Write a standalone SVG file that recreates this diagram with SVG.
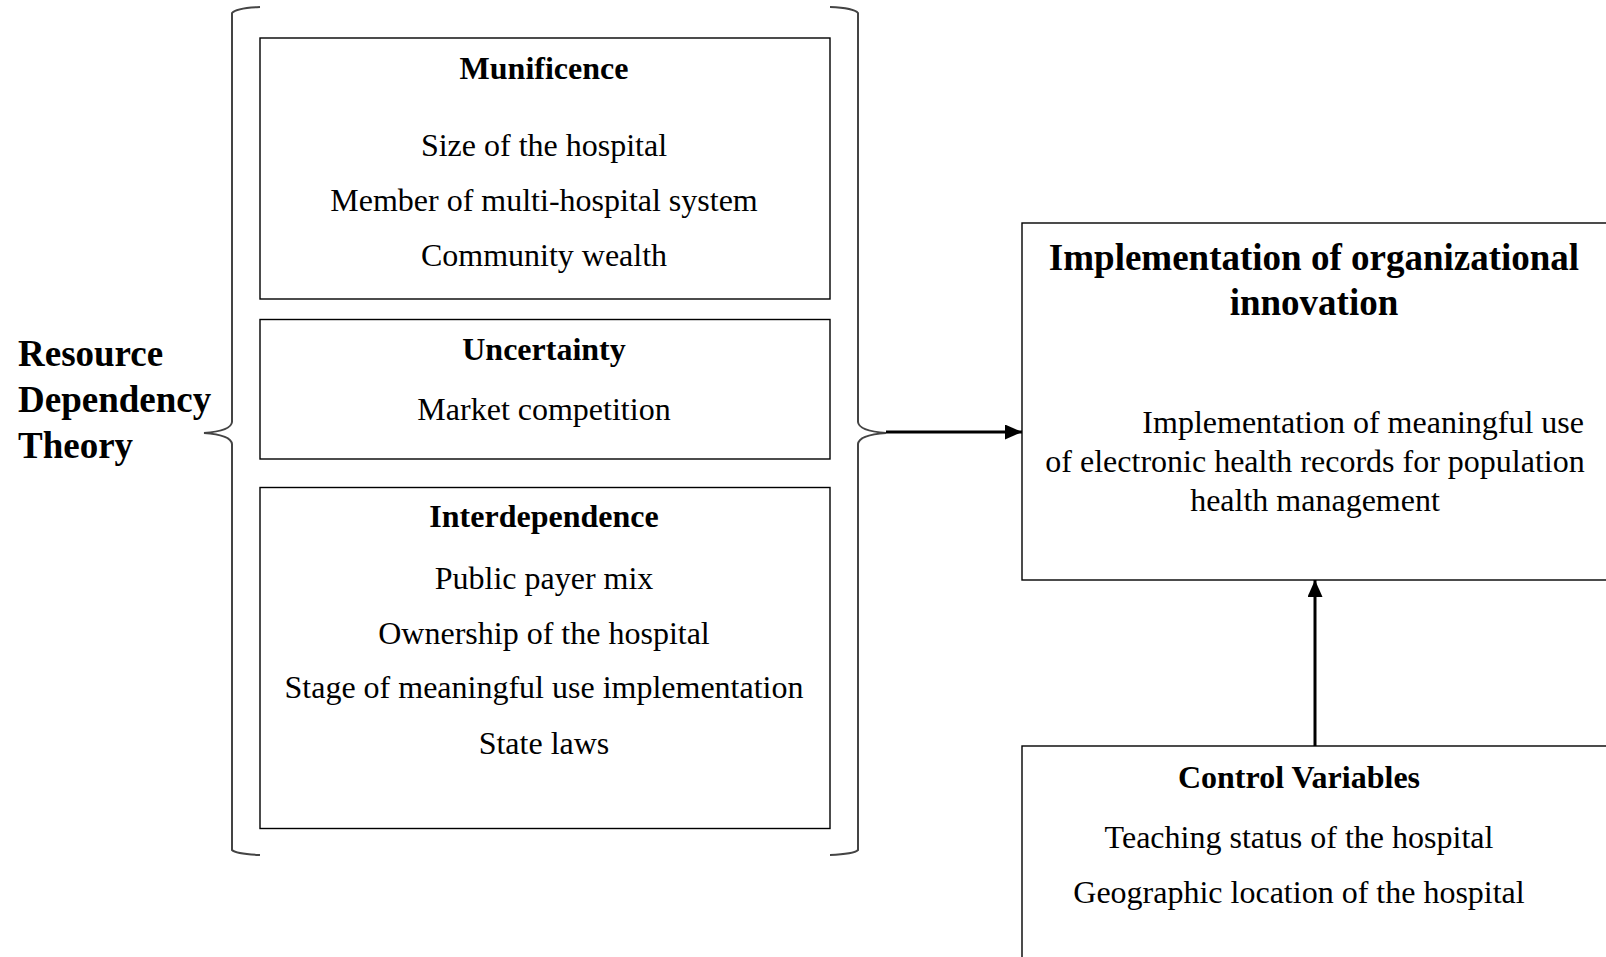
<svg xmlns="http://www.w3.org/2000/svg" width="1606" height="957" viewBox="0 0 1606 957">
<style>
.box{fill:#fff;stroke:#000;stroke-width:1.4}
.brace{fill:none;stroke:#444;stroke-width:2}
.t{font-family:"Liberation Serif","Times New Roman",serif;font-size:32px;fill:#000}
.b{font-weight:bold}
.c{text-anchor:middle}
.big{font-size:37px}
.conn{stroke:#000;stroke-width:3;fill:none}
</style>
<defs>
<marker id="ah" markerWidth="17" markerHeight="15" refX="17" refY="7.5" orient="auto" markerUnits="userSpaceOnUse">
<path d="M0,0 L17,7.5 L0,15 Z" fill="#000"/>
</marker>
</defs>
<rect width="1606" height="957" fill="#fff"/>
<g id="theory">
<text class="t b big" x="18" y="366">Resource</text>
<text class="t b big" x="18" y="412">Dependency</text>
<text class="t b big" x="18" y="458">Theory</text>
</g>
<g id="left-brace">
<path class="brace" d="M260,7 Q236,8 232,13 L232,422 Q231,431 204,433 Q231,435 232,444 L232,850 Q236,854 260,855"/>
</g>
<g id="right-brace">
<path class="brace" d="M830,7 Q854,8 858,13 L858,422 Q859,431 886,433 Q859,435 858,444 L858,850 Q854,854 830,855"/>
</g>
<g id="munificence">
<rect class="box" x="260" y="38" width="570" height="261"/>
<text class="t b c" x="544" y="79">Munificence</text>
<text class="t c" x="544" y="156">Size of the hospital</text>
<text class="t c" x="544" y="211">Member of multi-hospital system</text>
<text class="t c" x="544" y="266">Community wealth</text>
</g>
<g id="uncertainty">
<rect class="box" x="260" y="319.5" width="570" height="139.5"/>
<text class="t b c" x="544" y="360">Uncertainty</text>
<text class="t c" x="544" y="420">Market competition</text>
</g>
<g id="interdependence">
<rect class="box" x="260" y="487.5" width="570" height="341"/>
<text class="t b c" x="544" y="527">Interdependence</text>
<text class="t c" x="544" y="589">Public payer mix</text>
<text class="t c" x="544" y="644">Ownership of the hospital</text>
<text class="t c" x="544" y="698">Stage of meaningful use implementation</text>
<text class="t c" x="544" y="754">State laws</text>
</g>
<g id="outcome">
<rect class="box" x="1022" y="223" width="600" height="357"/>
<text class="t b big c" x="1314" y="270">Implementation of organizational</text>
<text class="t b big c" x="1314" y="315">innovation</text>
<text class="t" x="1584" y="433" text-anchor="end">Implementation of meaningful use</text>
<text class="t c" x="1315" y="472">of electronic health records for population</text>
<text class="t c" x="1315" y="511">health management</text>
</g>
<g id="controls">
<rect class="box" x="1022" y="746" width="600" height="230"/>
<text class="t b c" x="1299" y="788">Control Variables</text>
<text class="t c" x="1299" y="848">Teaching status of the hospital</text>
<text class="t c" x="1299" y="903">Geographic location of the hospital</text>
</g>
<g id="connectors">
<line class="conn" x1="886" y1="432" x2="1022" y2="432" marker-end="url(#ah)"/>
<line class="conn" x1="1315" y1="746" x2="1315" y2="580" marker-end="url(#ah)"/>
</g>
</svg>
